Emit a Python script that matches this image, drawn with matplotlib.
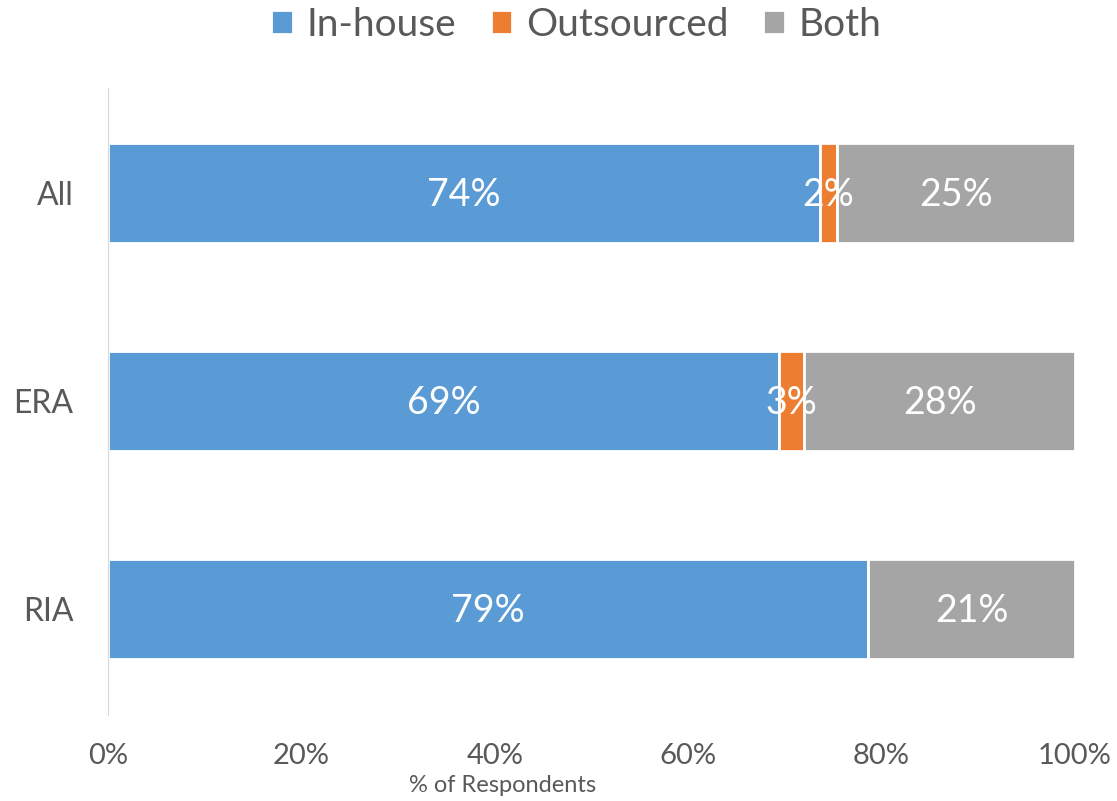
import numpy as np
import matplotlib.pyplot as plt
from matplotlib.ticker import PercentFormatter

plt.rcParams['font.family'] = ['Lato', 'DejaVu Sans']

groups = ['All', 'ERA', 'RIA']
series = ['In-house', 'Outsourced', 'Both']
in_house = [73.6, 69.4, 78.6]
outsourced = [1.8, 2.6, 0.0]
both = [24.6, 28.0, 21.4]
colors = ['#5B9BD5', '#ED7D31', '#A5A5A5']
text_col = '#595959'

data = np.array([in_house, outsourced, both])
data = data / data.sum(axis=0) * 100

fig = plt.figure(figsize=(11.17, 8.01), dpi=100)
ax = fig.add_axes([0.0967, 0.107, 0.8657, 0.783])

y = np.arange(len(groups))
left = np.zeros(len(groups))
for i, name in enumerate(series):
    bars = ax.barh(y, data[i], left=left, height=0.48, color=colors[i],
                   edgecolor='white', linewidth=2, label=name)
    for j, b in enumerate(bars):
        v = data[i][j]
        if v > 0.5:
            ax.text(left[j] + v / 2, y[j] + 0.01, f'{v:.0f}%', ha='center', va='center',
                    color='white', fontsize=27)
    left += data[i]

ax.set_xlim(0, 100)
ax.set_ylim(2.509, -0.505)
ax.set_yticks(y)
ax.set_yticklabels(groups)
ax.set_xticks(np.arange(0, 101, 20))
ax.xaxis.set_major_formatter(PercentFormatter(decimals=0))
ax.tick_params(axis='both', length=0, colors=text_col)
ax.tick_params(axis='x', labelsize=21, pad=20)
ax.tick_params(axis='y', labelsize=23, pad=25)
for s in ['top', 'right', 'bottom']:
    ax.spines[s].set_visible(False)
ax.spines['left'].set_color('#D9D9D9')
ax.set_xlabel('% of Respondents', fontsize=17, color=text_col)
ax.xaxis.set_label_coords(0.408, -0.095)

leg = fig.legend(loc='upper center', bbox_to_anchor=(0.516, 1.035), ncol=3, frameon=False,
                 fontsize=28, handlelength=0.55, handleheight=0.55, handletextpad=0.35,
                 columnspacing=0.9, labelcolor=text_col)

fig.savefig('out.png', dpi=100)
